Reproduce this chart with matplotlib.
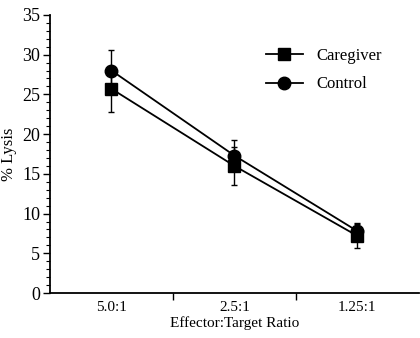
import matplotlib
matplotlib.use("Agg")
import matplotlib.pyplot as plt
from matplotlib.ticker import MultipleLocator

ratios = ["5.0:1", "2.5:1", "1.25:1"]
caregiver = [25.7, 16.0, 7.2]
caregiver_err = [2.9, 2.4, 1.5]
control = [28.0, 17.3, 7.8]
control_err = [2.6, 2.0, 1.0]

plt.rcParams["font.family"] = ["Liberation Serif", "DejaVu Serif"]

fig = plt.figure(figsize=(4.2, 3.38), dpi=100)
ax = fig.add_axes([0.119, 0.133, 0.878, 0.823])

x = list(range(len(ratios)))
ax.errorbar(x, caregiver, yerr=caregiver_err, color="black", marker="s", ms=9,
            lw=1.3, elinewidth=1.0, capsize=2.5, capthick=1.0, label="Caregiver", zorder=3)
ax.errorbar(x, control, yerr=control_err, color="black", marker="o", ms=9,
            lw=1.3, elinewidth=1.0, capsize=2.5, capthick=1.0, label="Control", zorder=3)

ax.set_xlim(-0.5, 2.5)
ax.set_ylim(0, 35)
ax.set_xticks(x)
ax.set_xticklabels(ratios, fontsize=11)
ax.set_xticks([0.5, 1.5], minor=True)
ax.tick_params(axis="x", which="major", length=0, pad=6)
ax.tick_params(axis="x", which="minor", length=5, width=1, direction="out")
ax.yaxis.set_major_locator(MultipleLocator(5))
ax.yaxis.set_minor_locator(MultipleLocator(1))
ax.tick_params(axis="y", which="major", length=5, width=1, labelsize=13, pad=2)
ax.tick_params(axis="y", which="minor", length=3, width=0.8)

for s in ["top", "right"]:
    ax.spines[s].set_visible(False)
for s in ["left", "bottom"]:
    ax.spines[s].set_linewidth(1.3)

ax.set_xlabel("Effector:Target Ratio", fontsize=11, labelpad=1)
ax.set_ylabel("% Lysis", fontsize=12, labelpad=4)

handles, labels = ax.get_legend_handles_labels()
handles = [h[0] for h in handles]
ax.legend(handles, labels, loc="upper right", bbox_to_anchor=(0.94, 0.935), frameon=False,
          fontsize=12, handlelength=2.2, labelspacing=0.75, handletextpad=0.8)

fig.savefig("out.png", dpi=100)
